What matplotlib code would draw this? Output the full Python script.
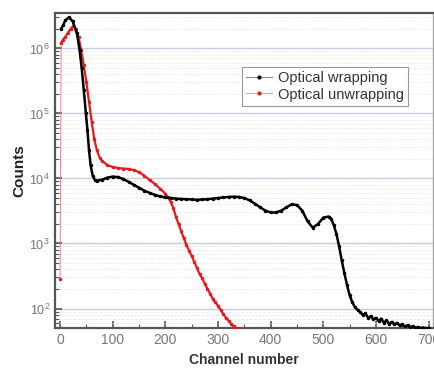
import numpy as np
import matplotlib.pyplot as plt
from matplotlib.lines import Line2D
from matplotlib.ticker import LogLocator, LogFormatterMathtext, MultipleLocator

plt.rcParams['font.family'] = ['Liberation Sans', 'DejaVu Sans']

# Optical wrapping (black)
wrap_ch = [2, 6, 10, 17, 24, 32, 37, 41, 45, 49, 52, 55, 58, 62, 66, 70, 80, 90, 100,
           110, 120, 130, 140, 150, 160, 170, 180, 190, 200, 210, 220, 230, 240, 250,
           260, 270, 280, 290, 300, 310, 320, 330, 340, 350, 360, 370, 380, 390, 400,
           410, 420, 430, 440, 450, 460, 470, 480, 490, 500, 510, 515, 520, 525, 530,
           535, 540, 545, 550, 555, 560, 565, 570, 575, 580, 585, 590, 595, 600, 605,
           610, 615, 620, 625, 630, 635, 640, 645, 650, 655, 660, 665, 670, 675, 680,
           685, 690, 695, 700]
wrap_counts = [2.0e6, 2.3e6, 2.7e6, 3.0e6, 2.6e6, 1.7e6, 9.5e5, 5.0e5, 2.3e5, 1.0e5,
               5.5e4, 2.7e4, 1.6e4, 1.1e4, 9.5e3, 9.2e3, 9.6e3, 1.03e4, 1.07e4,
               1.05e4, 9.8e3, 8.9e3, 8.0e3, 7.2e3, 6.5e3, 6.0e3, 5.6e3, 5.3e3, 5.1e3,
               5.0e3, 4.9e3, 4.85e3, 4.8e3, 4.75e3, 4.7e3, 4.75e3, 4.8e3, 4.9e3, 5.0e3,
               5.1e3, 5.2e3, 5.25e3, 5.2e3, 5.0e3, 4.6e3, 4.1e3, 3.6e3, 3.2e3, 3.0e3,
               3.0e3, 3.2e3, 3.6e3, 4.0e3, 3.9e3, 3.2e3, 2.2e3, 1.75e3, 2.0e3, 2.5e3,
               2.6e3, 2.4e3, 1.9e3, 1.4e3, 900, 550, 350, 230, 160, 125, 105, 95, 88,
               80, 84, 72, 76, 68, 72, 64, 70, 60, 66, 58, 62, 57, 60, 55, 57, 53, 55,
               52, 53, 51, 52, 50, 51, 50, 50]

# Optical unwrapping (red)
unwrap_ch = [0, 2, 5, 10, 15, 20, 25, 30, 35, 40, 45, 50, 55, 60, 65, 70, 75, 80, 90,
             100, 110, 120, 130, 140, 150, 160, 170, 180, 190, 200, 205, 210, 215, 220,
             225, 230, 235, 240, 245, 250, 255, 260, 265, 270, 275, 280, 285, 290, 295,
             300, 305, 310, 315, 320, 325, 330, 335, 340]
unwrap_counts = [280, 1.2e6, 1.35e6, 1.5e6, 1.75e6, 2.0e6, 2.2e6, 2.0e6, 1.5e6, 9.5e5,
                 5.5e5, 3.0e5, 1.5e5, 7.5e4, 4.0e4, 2.7e4, 2.1e4, 1.85e4, 1.6e4, 1.5e4,
                 1.45e4, 1.42e4, 1.4e4, 1.35e4, 1.25e4, 1.1e4, 9.5e3, 8.2e3, 7.0e3,
                 5.8e3, 5.1e3, 4.4e3, 3.5e3, 2.6e3, 2.0e3, 1.55e3, 1.2e3, 950, 780, 640,
                 520, 420, 340, 290, 240, 200, 170, 140, 125, 110, 95, 82, 72, 65, 58,
                 53, 50, 48]

fig = plt.figure(figsize=(4.35, 3.72), dpi=100)
ax = fig.add_axes([0.126, 0.118, 0.869, 0.847])

# first jump of the red series is only a faint thin line
ax.plot(unwrap_ch[:2], unwrap_counts[:2], color='#f08080', lw=0.7, zorder=3)
ax.plot(unwrap_ch[1:], unwrap_counts[1:], color='#e8191c', lw=1.6, marker='.', ms=3, zorder=3)
ax.plot(unwrap_ch[:1], unwrap_counts[:1], color='#e8191c', ls='none', marker='.', ms=3, zorder=3)
ax.plot(wrap_ch, wrap_counts, color='black', lw=1.8, marker='.', ms=3, zorder=4)

ax.set_yscale('log')
ax.set_xlim(-10, 708)
ax.set_ylim(50, 3.5e6)

ax.yaxis.set_major_locator(LogLocator(base=10, numticks=10))
ax.yaxis.set_minor_locator(LogLocator(base=10, subs=np.arange(2, 10), numticks=20))
ax.yaxis.set_major_formatter(LogFormatterMathtext())
ax.xaxis.set_major_locator(MultipleLocator(100))
ax.xaxis.set_minor_locator(MultipleLocator(50))

ax.grid(True, which='major', axis='y', color='#c8cce0', lw=1.0)
ax.grid(True, which='minor', axis='y', color='#ececf0', lw=0.6, ls='--')
ax.set_axisbelow(True)

ax.tick_params(which='both', direction='in', colors='#555555', labelcolor='#777777')
ax.tick_params(which='major', length=5, width=1.2, labelsize=10)
ax.tick_params(which='minor', length=3, width=0.8)
ax.tick_params(axis='y', labelsize=9)

for s in ax.spines.values():
    s.set_color('#555555')
    s.set_linewidth(1.6)
ax.spines['right'].set_color('#aaaaaa')
ax.spines['right'].set_linewidth(1.0)

ax.set_xlabel('Channel number', fontsize=10, fontweight='bold', color='#333333', labelpad=4)
ax.set_ylabel('Counts', fontsize=11, fontweight='bold', color='#222222', labelpad=2)

handles = [Line2D([], [], color='#888888', lw=0.8, marker='.', ms=4, mfc='black', mec='black'),
           Line2D([], [], color='#f0a0a0', lw=0.8, marker='.', ms=4, mfc='#e8191c', mec='#e8191c')]
leg = ax.legend(handles, ['Optical wrapping', 'Optical unwrapping'],
                loc='upper left', bbox_to_anchor=(0.475, 0.852), fontsize=10.5,
                fancybox=False, framealpha=1, edgecolor='#999999',
                handlelength=1.8, handletextpad=0.4, borderpad=0.3, labelspacing=0.15)
leg.get_frame().set_linewidth(0.8)
for t in leg.get_texts():
    t.set_color('#333333')

fig.savefig('out.png', dpi=100)
